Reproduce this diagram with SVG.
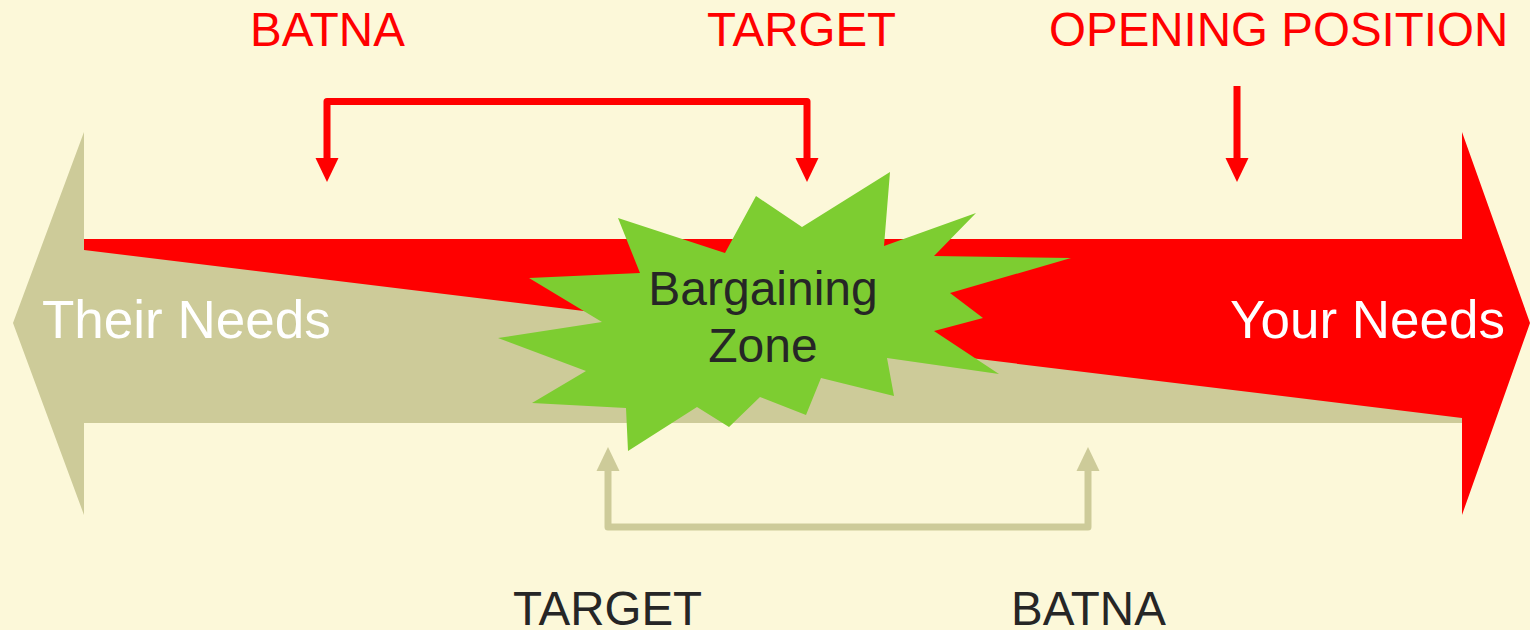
<svg xmlns="http://www.w3.org/2000/svg" width="1530" height="630" viewBox="0 0 1530 630">
<style>
text { font-family: "Liberation Sans", Arial, sans-serif; }
.lblred { fill: #FF0000; font-size: 47.5px; }
.lbldark { fill: #262626; font-size: 47.5px; }
.side { fill: #FFFFFF; font-size: 53px; }
.zone { fill: #262626; font-size: 48px; text-anchor: middle; }
.redline { fill: none; stroke: #FF0000; stroke-width: 7; stroke-linejoin: round; }
.khline { fill: none; stroke: #CDCB99; stroke-width: 7; stroke-linejoin: round; }
</style>
<defs>
<marker id="headRed" markerUnits="userSpaceOnUse" markerWidth="24" markerHeight="24" refX="0" refY="12" orient="auto-start-reverse" viewBox="0 0 24 24">
<path d="M0,0.5 L24,12 L0,23.5 Z" fill="#FF0000"/>
</marker>
<marker id="headKh" markerUnits="userSpaceOnUse" markerWidth="24" markerHeight="24" refX="0" refY="12" orient="auto-start-reverse" viewBox="0 0 24 24">
<path d="M0,0.5 L24,12 L0,23.5 Z" fill="#CDCB99"/>
</marker>
</defs>
<rect x="0" y="0" width="1530" height="630" fill="#FCF8D9"/>

<g id="their-needs">
<polygon points="13,323 84,132 84,239 1462,239 1462,423 84,423 84,515" fill="#CDCB99"/>
</g>
<g id="your-needs">
<polygon points="84,239 1462,239 1462,132 1530,323 1462,515 1462,418 84,250" fill="#FF0000"/>
</g>
<g id="their-needs-label">
<text class="side" x="42" y="338">Their Needs</text>
</g>
<g id="your-needs-label">
<text class="side" x="1230" y="338">Your Needs</text>
</g>

<g id="bargaining-zone">
<polygon fill="#7DCD31" points="618,218 725,253 756,196 802,227 890,172 884,246 976,213 934,256 1071,258 950,293 983,318 934,331 999,374 887,358 894,396 821,378 806,415 760,397 729,427 697,407 628,451 626,408 532,403 586,371 498,338 602,322 529,278 640,273"/>
<text class="zone" x="763" y="305">Bargaining</text>
<text class="zone" x="763" y="362">Zone</text>
</g>

<g id="connectors">
<path class="redline" d="M327,158 V101.5 H807 V158" marker-start="url(#headRed)" marker-end="url(#headRed)"/>
<path class="redline" d="M1237,86 V158" marker-end="url(#headRed)"/>
<path class="khline" d="M608,471 V527 H1088 V471" marker-start="url(#headKh)" marker-end="url(#headKh)"/>
</g>

<g id="label-batna-top"><text class="lblred" x="250" y="46">BATNA</text></g>
<g id="label-target-top"><text class="lblred" x="707" y="46">TARGET</text></g>
<g id="label-opening"><text class="lblred" x="1049" y="46">OPENING POSITION</text></g>
<g id="label-target-bottom"><text class="lbldark" x="513" y="625">TARGET</text></g>
<g id="label-batna-bottom"><text class="lbldark" x="1011" y="625">BATNA</text></g>
</svg>
